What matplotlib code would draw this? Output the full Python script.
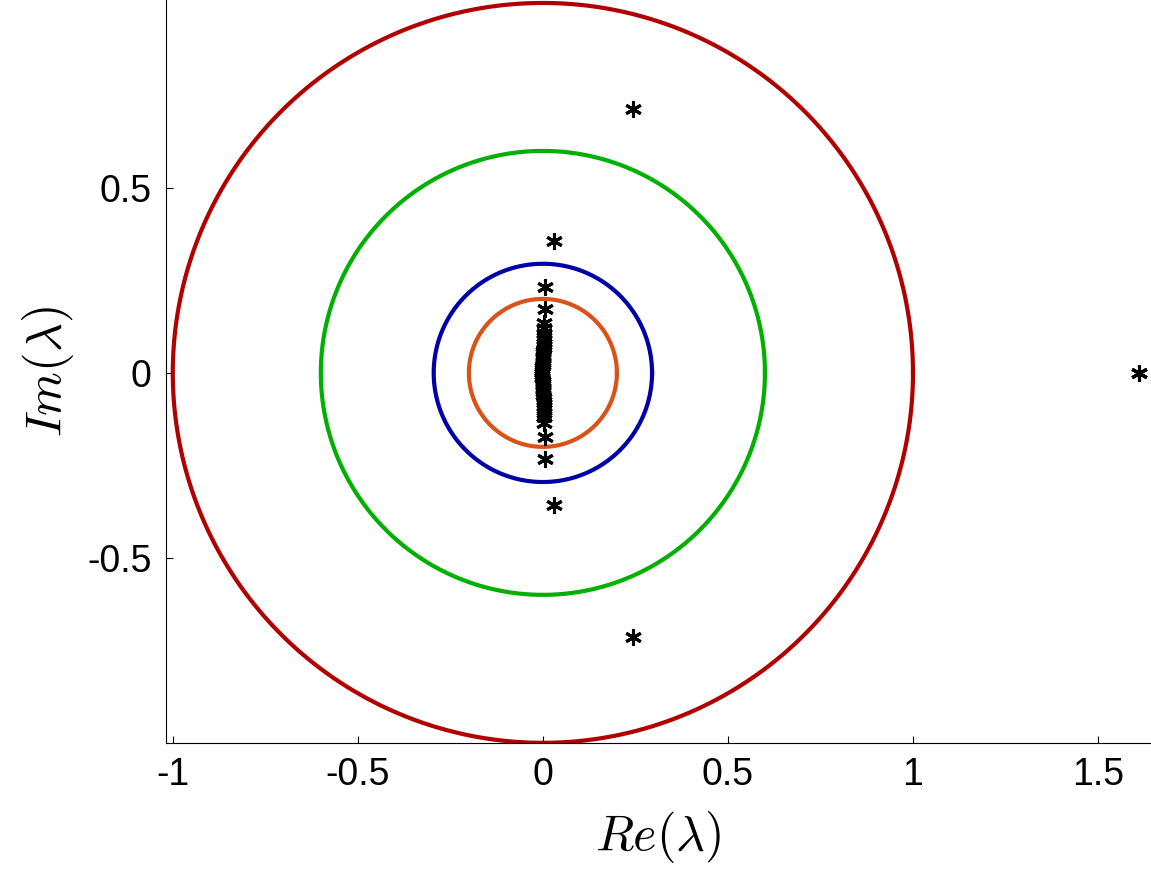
import numpy as np
import matplotlib.pyplot as plt
plt.rcParams['mathtext.fontset'] = 'cm'
plt.rcParams['font.family'] = ['Liberation Sans', 'DejaVu Sans']

radii = [1.0, 0.6, 0.295, 0.2]
colors = ['#b00000', '#00b000', '#0000a8', '#d95319']

# upper-half eigenvalues (mirrored as conjugates)
eig_re = [1.61, 0.243, 0.030, 0.006, 0.005, 0.004, 0.004, 0.003, 0.003, 0.003, 0.002, 0.002,
          0.002, 0.001, 0.001, 0.001, 0.000, 0.000, -0.001, -0.001, -0.002, -0.002, -0.003, -0.003]
eig_im = [0.0, 0.713, 0.357, 0.232, 0.172, 0.135, 0.120, 0.108, 0.098, 0.090, 0.082, 0.075,
          0.068, 0.060, 0.053, 0.046, 0.040, 0.033, 0.027, 0.021, 0.015, 0.010, 0.005, 0.0]

fig = plt.figure(figsize=(11.51, 8.77), dpi=100)
ax = fig.add_axes([0.144, 0.153, 0.855, 0.847])
t = np.linspace(0, 2*np.pi, 600)
for r, c in zip(radii, colors):
    ax.plot(r*np.cos(t), r*np.sin(t), color=c, lw=3)
re = np.array(eig_re); im = np.array(eig_im)
ax.plot(np.concatenate([re, re]), np.concatenate([im, -im]), ls='none',
        marker=(6, 2, 0), ms=12, mec='k', mew=2.2, color='k')
ax.set_xlim(-1.019, 1.64)
ax.set_ylim(-1.0, 1.008)
ax.set_xticks([-1, -0.5, 0, 0.5, 1, 1.5])
ax.set_xticklabels(['-1', '-0.5', '0', '0.5', '1', '1.5'])
ax.set_yticks([-0.5, 0, 0.5])
ax.set_yticklabels(['-0.5', '0', '0.5'])
for s in ['top', 'right']:
    ax.spines[s].set_visible(False)
ax.tick_params(labelsize=27, direction='in', length=5, pad=10)
ax.set_xlabel(r'$Re(\lambda)$', fontsize=36, labelpad=12)
ax.set_ylabel(r'$Im(\lambda)$', fontsize=36, labelpad=8)
fig.savefig('out.png', dpi=100)
